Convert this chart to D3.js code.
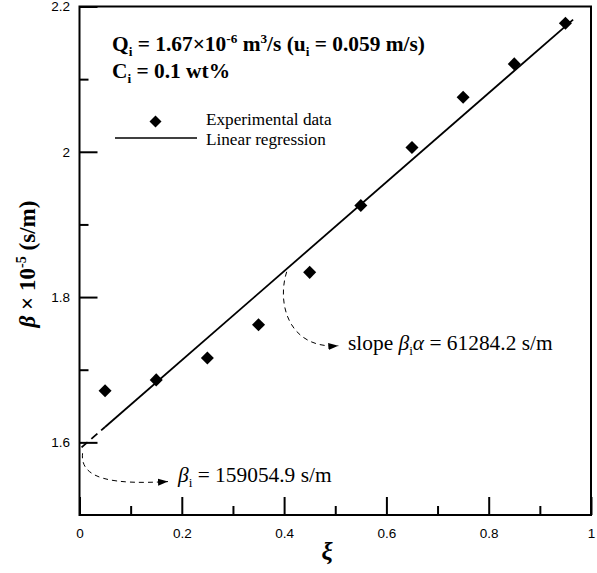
<!DOCTYPE html>
<html>
<head>
<meta charset="utf-8">
<script src="https://cdn.jsdelivr.net/npm/d3@7"></script>
<style>
  body { margin: 0; background: #fff; }
  svg { display: block; }
  .tick text { font-family: "Liberation Sans", Arial, sans-serif; font-size: 13.5px; fill: #000; }
  .tick line { stroke: #000; stroke-width: 2px; }
  .serif { font-family: "Liberation Serif", "Times New Roman", serif; fill: #000; }
</style>
</head>
<body>
<div id="chart"></div>
<script>
// experimental points
var xi = [0.05, 0.15, 0.25, 0.35, 0.45, 0.55, 0.65, 0.75, 0.85, 0.95];
var beta = [1.671, 1.686, 1.716, 1.762, 1.834, 1.926, 2.006, 2.075, 2.121, 2.177];

// linear regression (beta x 1e-5)
var intercept = 1.590549;
var slope = 0.612842;

var xMajor = [0, 0.2, 0.4, 0.6, 0.8, 1];
var xMinor = [0.1, 0.3, 0.5, 0.7, 0.9];
var yMajor = [1.6, 1.8, 2, 2.2];
var yMinor = [1.7, 1.9, 2.1];

var width = 597, height = 573;

var svg = d3.select("#chart").append("svg")
  .attr("width", width)
  .attr("height", height);

var x = d3.scaleLinear().domain([0, 1]).range([79.5, 591]);
var y = d3.scaleLinear().domain([1.5, 2.2]).range([515, 6.5]);

var defs = svg.append("defs");
defs.append("marker")
  .attr("id", "arrow")
  .attr("viewBox", "0 0 10 10")
  .attr("refX", 10).attr("refY", 5)
  .attr("markerWidth", 10).attr("markerHeight", 10)
  .attr("markerUnits", "userSpaceOnUse")
  .attr("orient", "auto")
  .append("path")
  .attr("d", "M0,1.5 L10,5 L0,8.5 Z")
  .attr("fill", "#000");

var fmt = function (d) { return String(d); };

// axes, ticks pointing inside
function xAxis(vals, len, labels) {
  var a = d3.axisBottom(x).tickValues(vals).tickSizeInner(-len).tickSizeOuter(0).tickPadding(13);
  a.tickFormat(labels ? fmt : "");
  var g = svg.append("g").attr("transform", "translate(0," + y(1.5) + ")").call(a);
  g.select(".domain").remove();
}
function yAxis(vals, len, labels) {
  var a = d3.axisLeft(y).tickValues(vals).tickSizeInner(-len).tickSizeOuter(0).tickPadding(9.5);
  a.tickFormat(labels ? fmt : "");
  var g = svg.append("g").attr("transform", "translate(" + x(0) + ",0)").call(a);
  g.select(".domain").remove();
}
xAxis(xMajor, 18, true);
xAxis(xMinor, 9, false);
yAxis(yMajor, 18, true);
yAxis(yMinor, 9, false);

// frame
svg.append("rect")
  .attr("x", x(0)).attr("y", y(2.2))
  .attr("width", x(1) - x(0)).attr("height", y(1.5) - y(2.2))
  .attr("fill", "none").attr("stroke", "#000").attr("stroke-width", 2);

// regression line: dashed near the intercept, solid over the data
var fit = function (v) { return intercept + slope * v; };
var line = d3.line().x(function (d) { return x(d); }).y(function (d) { return y(fit(d)); });
svg.append("path").datum([0.004, 0.05])
  .attr("d", line).attr("fill", "none").attr("stroke", "#000")
  .attr("stroke-width", 1.8).attr("stroke-dasharray", "8,5");
svg.append("path").datum([0.05, 0.965])
  .attr("d", line).attr("fill", "none").attr("stroke", "#000")
  .attr("stroke-width", 1.8);

// diamonds
var diamond = d3.symbol().type(d3.symbolSquare).size(85);
svg.selectAll(".pt").data(xi).enter().append("path")
  .attr("class", "pt")
  .attr("d", diamond)
  .attr("transform", function (d, i) { return "translate(" + x(d) + "," + y(beta[i]) + ") rotate(45)"; })
  .attr("fill", "#000");

// dashed curved arrows
function curve(p0, c1, c2, p1) {
  var p = d3.path();
  p.moveTo(x(p0[0]), y(p0[1]));
  p.bezierCurveTo(x(c1[0]), y(c1[1]), x(c2[0]), y(c2[1]), x(p1[0]), y(p1[1]));
  return p.toString();
}
svg.append("path")
  .attr("d", curve([0.405, fit(0.405) - 0.004], [0.385, 1.79], [0.41, 1.728], [0.506, 1.733]))
  .attr("fill", "none").attr("stroke", "#000").attr("stroke-width", 1)
  .attr("stroke-dasharray", "5,4").attr("marker-end", "url(#arrow)");
svg.append("path")
  .attr("d", curve([0.006, 1.585], [0.0, 1.548], [0.07, 1.542], [0.173, 1.546]))
  .attr("fill", "none").attr("stroke", "#000").attr("stroke-width", 1)
  .attr("stroke-dasharray", "5,4").attr("marker-end", "url(#arrow)");

// rich text helper: parts of [text, kind]
function rich(g, parts, size) {
  parts.forEach(function (p) {
    var t = g.append("tspan").text(p[0]);
    if (p[1] === "sub") t.attr("font-size", size * 0.62).attr("dy", size * 0.22);
    if (p[1] === "sup") t.attr("font-size", size * 0.62).attr("dy", -size * 0.38);
    if (p[1] === "it") t.attr("font-style", "italic");
    if (p[1] === "back") t.attr("dy", p[2]);
    if (p[1] === "itback") t.attr("font-style", "italic").attr("dy", p[2]);
  });
}

var fs = 21.4;
var t1 = svg.append("text").attr("class", "serif").attr("x", 112).attr("y", 51)
  .attr("font-size", fs).attr("font-weight", "bold");
rich(t1, [["Q"], ["i", "sub"], [" = 1.67×10", "back", -fs * 0.22], ["-6", "sup"],
  [" m", "back", fs * 0.38], ["3", "sup"], ["/s (u", "back", fs * 0.38], ["i", "sub"],
  [" = 0.059 m/s)", "back", -fs * 0.22]], fs);

var t2 = svg.append("text").attr("class", "serif").attr("x", 112).attr("y", 78)
  .attr("font-size", fs).attr("font-weight", "bold");
rich(t2, [["C"], ["i", "sub"], [" = 0.1 wt%", "back", -fs * 0.22]], fs);

// legend
svg.append("path").attr("d", d3.symbol().type(d3.symbolSquare).size(72))
  .attr("transform", "translate(155.5,121.5) rotate(45)").attr("fill", "#000");
svg.append("line").attr("x1", 115).attr("x2", 197).attr("y1", 138).attr("y2", 138)
  .attr("stroke", "#000").attr("stroke-width", 1.5);
svg.append("text").attr("class", "serif").attr("x", 206).attr("y", 125)
  .attr("font-size", 17.2).text("Experimental data");
svg.append("text").attr("class", "serif").attr("x", 206).attr("y", 145)
  .attr("font-size", 17.2).text("Linear regression");

// annotations
var t3 = svg.append("text").attr("class", "serif").attr("x", 348).attr("y", 350)
  .attr("font-size", fs);
rich(t3, [["slope "], ["β", "it"], ["i", "sub"], ["α", "itback", -fs * 0.22], [" = 61284.2 s/m"]], fs);

var t4 = svg.append("text").attr("class", "serif").attr("x", 178).attr("y", 482)
  .attr("font-size", fs);
rich(t4, [["β", "it"], ["i", "sub"], [" = 159054.9 s/m", "back", -fs * 0.22]], fs);

// axis titles
var yfs = 23;
var yl = svg.append("text").attr("class", "serif")
  .attr("transform", "translate(35,264) rotate(-90)")
  .attr("text-anchor", "middle").attr("font-size", yfs).attr("font-weight", "bold");
rich(yl, [["β", "it"], [" × 10"], ["-5", "sup"], [" (s/m)", "back", yfs * 0.38]], yfs);

svg.append("text").attr("class", "serif")
  .attr("x", 327).attr("y", 560).attr("text-anchor", "middle")
  .attr("font-size", 25).attr("font-weight", "bold").attr("font-style", "italic")
  .text("ξ");
</script>
</body>
</html>
